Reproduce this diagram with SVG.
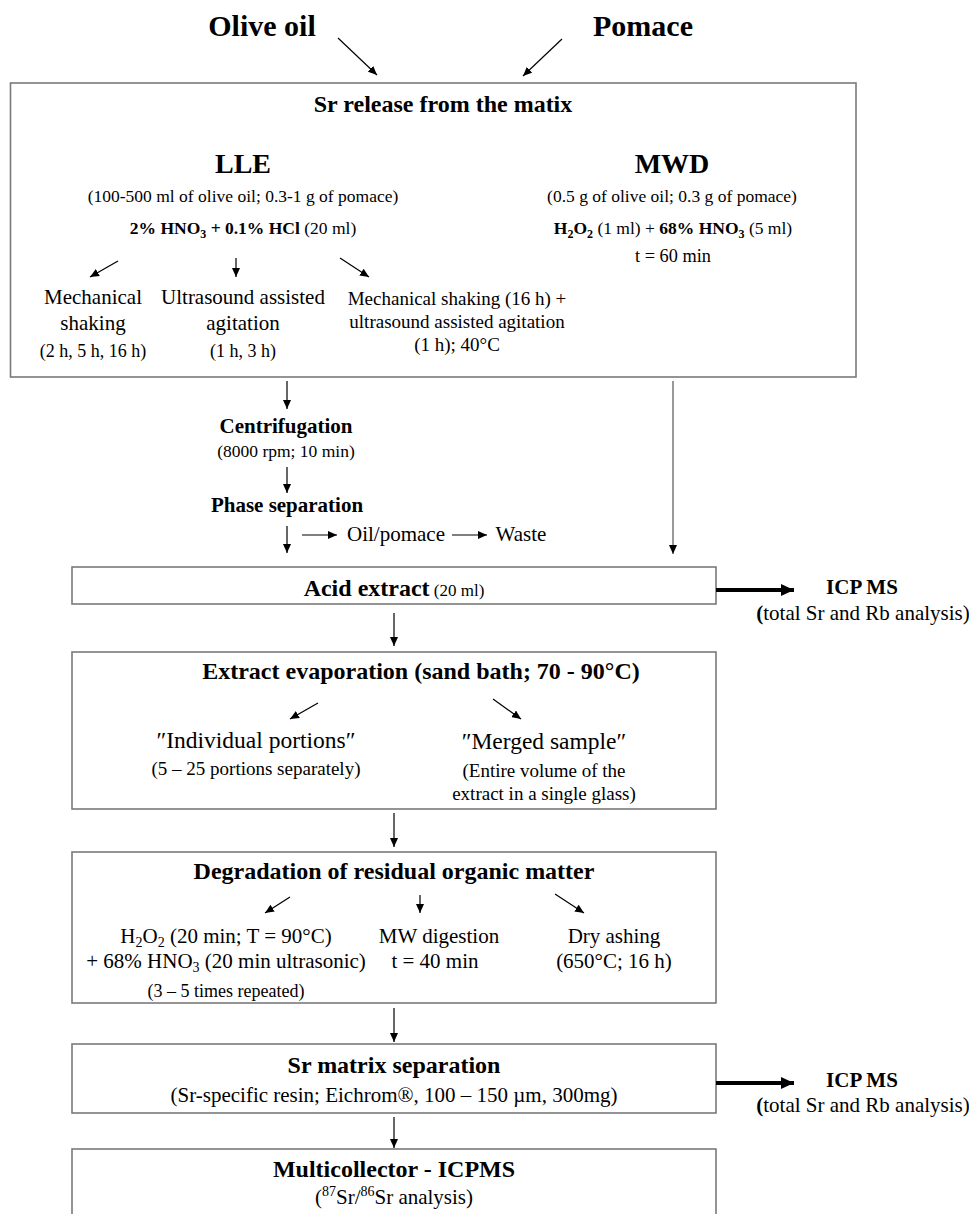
<svg xmlns="http://www.w3.org/2000/svg" width="969" height="1214" viewBox="0 0 969 1214">
<style>
text{font-family:"Liberation Serif","Times New Roman",serif;fill:#000;text-anchor:middle}
.b{font-weight:bold}
.box{fill:#fff;stroke:#7a7a7a;stroke-width:1.6}
.c line{stroke:#000;stroke-width:1.2;marker-end:url(#ah)}
.c line.g{stroke:#555}
.c line.t{stroke-width:4;marker-end:url(#ahb)}
</style>
<defs>
<marker id="ah" markerUnits="userSpaceOnUse" markerWidth="9" markerHeight="8" refX="9" refY="4" orient="auto"><path d="M0,0 L9,4 L0,8 z" fill="#000"/></marker>
<marker id="ahb" markerUnits="userSpaceOnUse" markerWidth="13" markerHeight="12" refX="13" refY="6" orient="auto"><path d="M0,0 L13,6 L0,12 z" fill="#000"/></marker>
</defs>
<rect width="969" height="1214" fill="#fff"/>

<g id="inputs">
<text class="b" x="262" y="36" font-size="30">Olive oil</text>
<text class="b" x="643" y="36" font-size="30">Pomace</text>
</g>

<g id="release">
<rect class="box" x="10.5" y="83" width="845.5" height="294"/>
<text class="b" x="443" y="112" font-size="24">Sr release from the matix</text>
<text class="b" x="243" y="173" font-size="28">LLE</text>
<text x="243" y="202" font-size="17.5">(100-500 ml of olive oil; 0.3-1 g of pomace)</text>
<text x="243" y="234" font-size="17.5"><tspan class="b">2% HNO</tspan><tspan class="b" dy="4" font-size="12">3</tspan><tspan class="b" dy="-4"> + 0.1% HCl</tspan> (20 ml)</text>
<text x="93" y="304" font-size="21">Mechanical</text>
<text x="93" y="330" font-size="21">shaking</text>
<text x="93" y="357" font-size="18">(2 h, 5 h, 16 h)</text>
<text x="243" y="304" font-size="21">Ultrasound assisted</text>
<text x="243" y="330" font-size="21">agitation</text>
<text x="243" y="357" font-size="18">(1 h, 3 h)</text>
<text x="457" y="305" font-size="19">Mechanical shaking (16 h) +</text>
<text x="457" y="328" font-size="19">ultrasound assisted agitation</text>
<text x="457" y="351" font-size="19">(1 h); 40°C</text>
<text class="b" x="672" y="173" font-size="28">MWD</text>
<text x="672" y="202" font-size="17.5">(0.5 g of olive oil; 0.3 g of pomace)</text>
<text x="673" y="234" font-size="17.5"><tspan class="b">H</tspan><tspan class="b" dy="4" font-size="12">2</tspan><tspan class="b" dy="-4">O</tspan><tspan class="b" dy="4" font-size="12">2</tspan><tspan dy="-4"> (1 ml) + </tspan><tspan class="b">68% HNO</tspan><tspan class="b" dy="4" font-size="12">3</tspan><tspan dy="-4"> (5 ml)</tspan></text>
<text x="673" y="262" font-size="18.3">t = 60 min</text>
</g>

<g id="centrifugation">
<text class="b" x="286" y="433" font-size="21">Centrifugation</text>
<text x="286" y="457" font-size="17.5">(8000 rpm; 10 min)</text>
</g>

<g id="phase">
<text class="b" x="287" y="512" font-size="21">Phase separation</text>
</g>

<g id="oil">
<text x="396" y="541" font-size="21">Oil/pomace</text>
</g>

<g id="waste">
<text x="521" y="541" font-size="21">Waste</text>
</g>

<g id="acid">
<rect class="box" x="72" y="567" width="644" height="37"/>
<text x="394" y="596"><tspan class="b" font-size="24">Acid extract</tspan><tspan font-size="17"> (20 ml)</tspan></text>
</g>

<g id="icp1">
<text class="b" x="862" y="594" font-size="21">ICP MS</text>
<text x="863" y="620" font-size="21"><tspan class="b">(</tspan>total Sr and Rb analysis)</text>
</g>

<g id="evaporation">
<rect class="box" x="72" y="652" width="644" height="157"/>
<text class="b" x="421" y="679" font-size="24">Extract evaporation (sand bath; 70 - 90°C)</text>
<text x="256" y="748" font-size="23.5">″Individual portions″</text>
<text x="256" y="775" font-size="19">(5 – 25 portions separately)</text>
<text x="544" y="749" font-size="23.5">″Merged sample″</text>
<text x="544" y="777" font-size="19">(Entire volume of the</text>
<text x="544" y="800" font-size="19">extract in a single glass)</text>
</g>

<g id="degradation">
<rect class="box" x="72" y="852" width="644" height="151"/>
<text class="b" x="394" y="879" font-size="24">Degradation of residual organic matter</text>
<text x="226" y="943" font-size="21">H<tspan dy="4" font-size="14">2</tspan><tspan dy="-4">O</tspan><tspan dy="4" font-size="14">2</tspan><tspan dy="-4"> (20 min; T = 90°C)</tspan></text>
<text x="226" y="968" font-size="21">+ 68% HNO<tspan dy="4" font-size="14">3</tspan><tspan dy="-4"> (20 min ultrasonic)</tspan></text>
<text x="226" y="997" font-size="18">(3 – 5 times repeated)</text>
<text x="439" y="943" font-size="21">MW digestion</text>
<text x="435" y="968" font-size="21">t = 40 min</text>
<text x="614" y="943" font-size="21">Dry ashing</text>
<text x="614" y="968" font-size="21">(650°C; 16 h)</text>
</g>

<g id="srsep">
<rect class="box" x="72" y="1044" width="644" height="69"/>
<text class="b" x="394" y="1073" font-size="24">Sr matrix separation</text>
<text x="394" y="1102" font-size="21">(Sr-specific resin; Eichrom®, 100 – 150 µm, 300mg)</text>
</g>

<g id="icp2">
<text class="b" x="862" y="1087" font-size="21">ICP MS</text>
<text x="863" y="1112" font-size="21"><tspan class="b">(</tspan>total Sr and Rb analysis)</text>
</g>

<g id="mc">
<rect class="box" x="72" y="1149" width="644" height="75"/>
<text class="b" x="394" y="1177" font-size="24">Multicollector - ICPMS</text>
<text x="394" y="1204" font-size="21">(<tspan dy="-8" font-size="14">87</tspan><tspan dy="8">Sr/</tspan><tspan dy="-8" font-size="14">86</tspan><tspan dy="8">Sr analysis)</tspan></text>
</g>

<g id="connectors" class="c">
<line x1="338" y1="38" x2="377" y2="75"/>
<line x1="562" y1="39" x2="523" y2="76"/>
<line x1="118" y1="261" x2="90" y2="277"/>
<line x1="236" y1="258" x2="236" y2="277"/>
<line x1="340" y1="258" x2="369" y2="277"/>
<line x1="287" y1="381" x2="287" y2="409"/>
<line x1="287" y1="467" x2="287" y2="493"/>
<line x1="287" y1="526" x2="287" y2="553"/>
<line x1="302" y1="535" x2="337" y2="535"/>
<line x1="452" y1="535" x2="487" y2="535"/>
<line class="g" x1="673" y1="381" x2="673" y2="554"/>
<line class="t" x1="716" y1="590" x2="794" y2="590"/>
<line x1="394" y1="613" x2="394" y2="646"/>
<line x1="318" y1="703" x2="290" y2="719"/>
<line x1="493" y1="699" x2="521" y2="719"/>
<line x1="394" y1="813" x2="394" y2="847"/>
<line x1="290" y1="897" x2="265" y2="913"/>
<line x1="420" y1="895" x2="420" y2="913"/>
<line x1="555" y1="894" x2="584" y2="913"/>
<line x1="394" y1="1008" x2="394" y2="1042"/>
<line class="t" x1="716" y1="1083" x2="794" y2="1083"/>
<line x1="394" y1="1117" x2="394" y2="1148"/>
</g>
</svg>
